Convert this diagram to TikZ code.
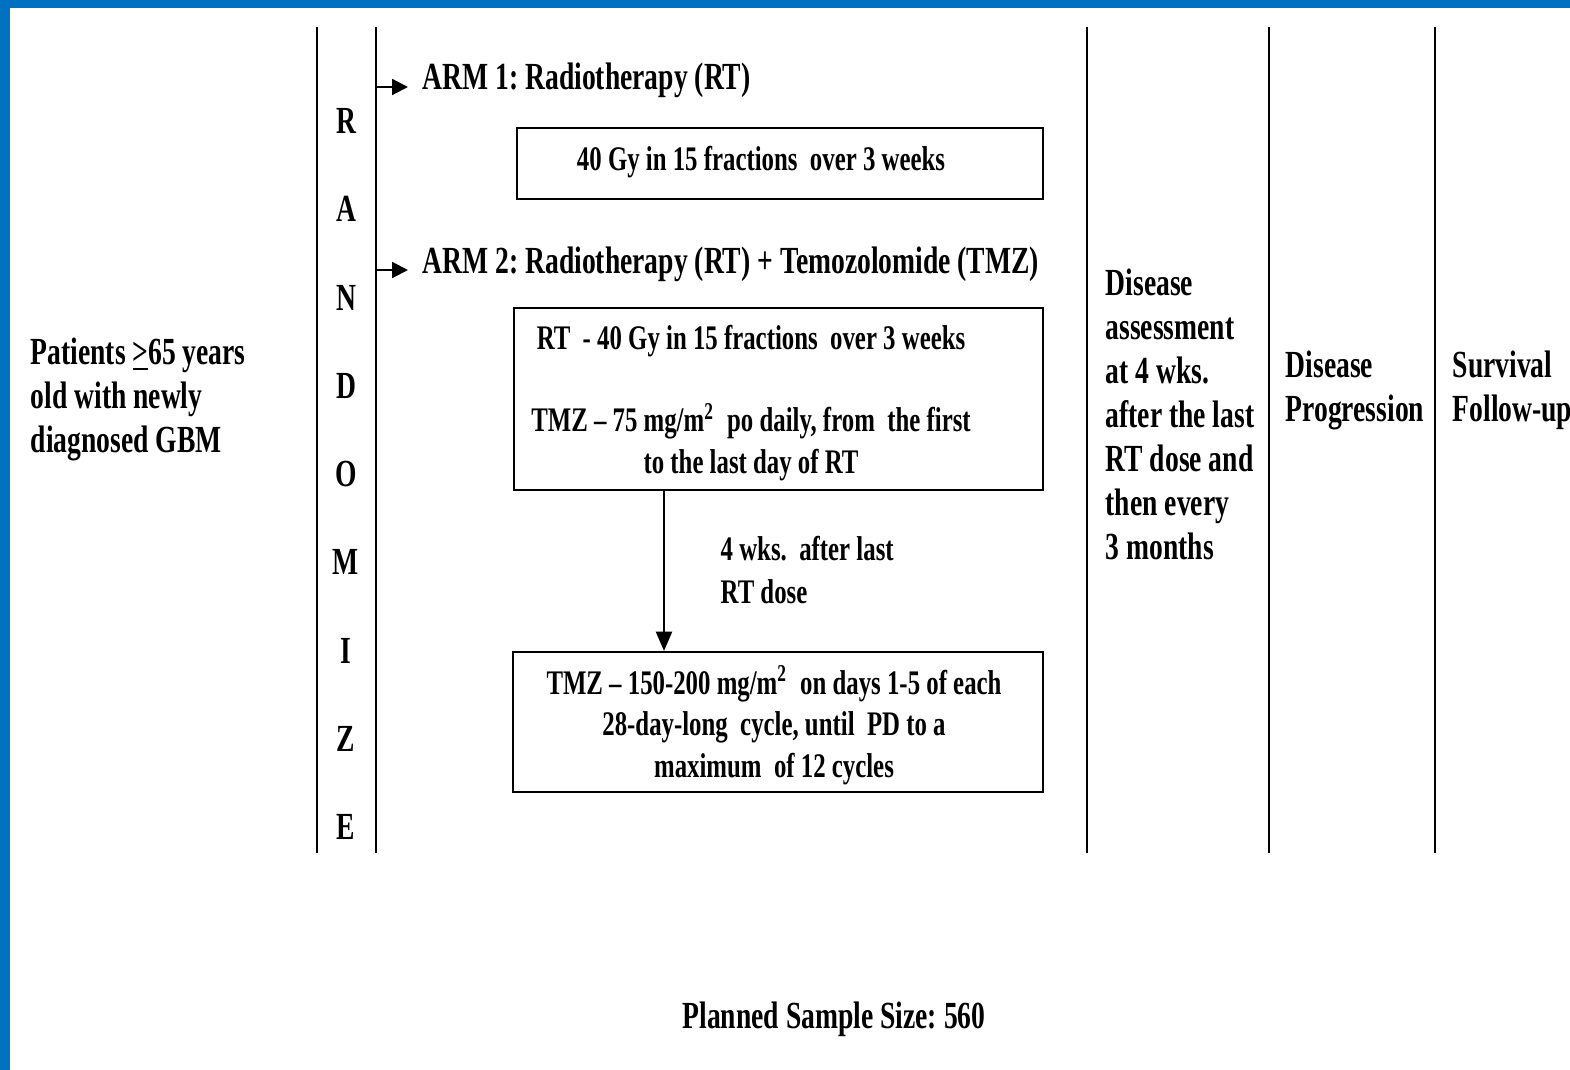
\documentclass[tikz,border=0pt]{standalone}
\usepackage{fontspec}
\setmainfont[FakeStretch=0.72]{Liberation Serif}
\usepackage{tikz}
\usetikzlibrary{arrows.meta,positioning}
\definecolor{frameblue}{RGB}{0,112,192}
\frenchspacing

\begin{document}
\begin{tikzpicture}[
  x=0.01cm, y=-0.01cm,
  font=\fontsize{10.9}{12.5}\selectfont\bfseries,
  every node/.style={inner sep=0pt},
  rule/.style={draw=black, line width=0.6pt},
  box/.style={draw=black, line width=0.6pt},
  flow/.style={-{Triangle[length=4.5pt,width=4.5pt]}, draw=black, line width=0.6pt},
  drop/.style={-{Triangle[length=5.5pt,width=4.6pt]}, draw=black, line width=0.6pt},
  lbl/.style={align=left, anchor=base west},
  armlbl/.style={anchor=base west, inner xsep=0.14cm},
  boxtxt/.style={align=center, anchor=base, font=\fontsize{9.8}{11.7}\selectfont\bfseries},
  letter/.style={anchor=base},
]
\useasboundingbox (0,0) rectangle (1570,1070);
\clip (0,0) rectangle (1570,1070);
\fill[white] (0,0) rectangle (1570,1070);
\fill[frameblue] (0,0) rectangle (1570,8);
\fill[frameblue] (0,0) rectangle (10,1070);

% ---- column rules ----
\foreach \x in {317,376,1087,1269,1435}
  \draw[rule] (\x,27) -- (\x,853);
\coordinate (rndR) at (376,0);
\coordinate (split) at (664,0);

% ---- eligibility ----
\node[lbl] (elig) at (30,452) {Patients \underline{>}65 years\\old with newly\\diagnosed GBM};

% ---- randomize ----
\foreach \ch [count=\i from 0] in {R,A,N,D,O,M,I,Z,E}
  \node[letter] (rz\i) at (346,{133.5+88.25*\i}) {\ch};

% ---- arms ----
\node[armlbl] (arm1) at (408,90)  {ARM 1: Radiotherapy (RT)};
\node[armlbl] (arm2) at (408,273) {ARM 2: Radiotherapy (RT) + Temozolomide (TMZ)};
\draw[flow] ([yshift=0.03cm]arm1.base west -| rndR) -- ([yshift=0.03cm]arm1.base west);
\draw[flow] ([yshift=0.03cm]arm2.base west -| rndR) -- ([yshift=0.03cm]arm2.base west);

\node[box, minimum width=5.26cm, minimum height=0.71cm] (rtbox) at (780,163.5) {};
\node[boxtxt] (rttxt) at (761,171) {40 Gy in 15 fractions~ over 3 weeks};

\node[box, minimum width=5.29cm, minimum height=1.82cm] (combox) at (778.5,399) {};
\node[boxtxt] (comtxt) at (751,473)
  {RT~ - 40 Gy in 15 fractions~ over 3 weeks\\[11.7pt]
   TMZ -- 75 mg/m\textsuperscript{2}~ po daily, from~ the first\\
   to the last day of RT};

\node[box, minimum width=5.30cm, minimum height=1.40cm] (adjbox) at (778,722) {};
\node[boxtxt] (adjtxt) at (774,777)
  {TMZ -- 150-200 mg/m\textsuperscript{2}~ on days 1-5 of each\\
   28-day-long~ cycle, until~ PD to a\\
   maximum~ of 12 cycles};

\draw[drop] (combox.south -| split) -- (adjbox.north -| split);
\node[lbl, font=\fontsize{9.8}{12}\selectfont\bfseries] (gap) at (720,603)
  {4 wks.~ after last\\RT dose};

% ---- follow-up columns ----
\node[lbl] (assess) at (1105,559)
  {Disease\\assessment\\at 4 wks.\\after the last\\RT dose and\\then every\\3 months};
\node[lbl] (prog) at (1285,421) {Disease\\Progression};
\node[lbl] (surv) at (1452,421) {Survival\\Follow-up};

\node[anchor=base] (size) at (834,1028) {Planned Sample Size: 560};
\end{tikzpicture}
\end{document}
